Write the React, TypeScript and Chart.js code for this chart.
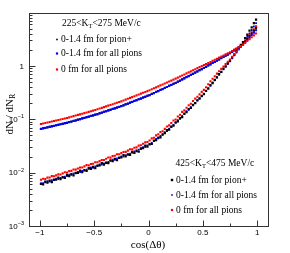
import React, { useEffect, useRef } from "react";
import { Chart, registerables } from "chart.js";

Chart.register(...registerables);

// Bin centres of cos(Δθ)
const cosBins = [
  -0.99, -0.97, -0.95, -0.93, -0.91, -0.89, -0.87, -0.85, -0.83, -0.81,
  -0.79, -0.77, -0.75, -0.73, -0.71, -0.69, -0.67, -0.65, -0.63, -0.61,
  -0.59, -0.57, -0.55, -0.53, -0.51, -0.49, -0.47, -0.45, -0.43, -0.41,
  -0.39, -0.37, -0.35, -0.33, -0.31, -0.29, -0.27, -0.25, -0.23, -0.21,
  -0.19, -0.17, -0.15, -0.13, -0.11, -0.09, -0.07, -0.05, -0.03, -0.01,
  0.01, 0.03, 0.05, 0.07, 0.09, 0.11, 0.13, 0.15, 0.17, 0.19,
  0.21, 0.23, 0.25, 0.27, 0.29, 0.31, 0.33, 0.35, 0.37, 0.39,
  0.41, 0.43, 0.45, 0.47, 0.49, 0.51, 0.53, 0.55, 0.57, 0.59,
  0.61, 0.63, 0.65, 0.67, 0.69, 0.71, 0.73, 0.75, 0.77, 0.79,
  0.81, 0.83, 0.85, 0.87, 0.89, 0.91, 0.93, 0.95, 0.97, 0.99,
];

// 225 < kT < 275 MeV/c
const lowKtPionPlus = [
  0.0655, 0.0680, 0.0686, 0.0710, 0.0718, 0.0741, 0.0749, 0.0774, 0.0783, 0.0808,
  0.0818, 0.0845, 0.0853, 0.0886, 0.0900, 0.0934, 0.0949, 0.0985, 0.1001, 0.1039,
  0.1055, 0.1096, 0.1113, 0.1155, 0.1174, 0.1218, 0.1244, 0.1297, 0.1324, 0.1380,
  0.1409, 0.1468, 0.1499, 0.1563, 0.1596, 0.1663, 0.1698, 0.1770, 0.1818, 0.1905,
  0.1956, 0.2050, 0.2106, 0.2207, 0.2267, 0.2376, 0.2440, 0.2557, 0.2627, 0.2753,
  0.2827, 0.2983, 0.3085, 0.3255, 0.3367, 0.3553, 0.3675, 0.3877, 0.4011, 0.4232,
  0.4377, 0.4619, 0.4777, 0.5069, 0.5274, 0.5597, 0.5822, 0.6179, 0.6427, 0.6821,
  0.7096, 0.7528, 0.7833, 0.8312, 0.8648, 0.9177, 0.958, 1.020, 1.065, 1.135,
  1.184, 1.261, 1.316, 1.402, 1.464, 1.559, 1.627, 1.733, 1.826, 1.962,
  2.067, 2.221, 2.340, 2.516, 2.85, 3.20, 3.60, 4.05, 4.55, 5.10,
];
const lowKtAllPions = [
  0.0661, 0.0676, 0.0690, 0.0706, 0.0721, 0.0737, 0.0753, 0.0770, 0.0787, 0.0804,
  0.0822, 0.0840, 0.0858, 0.0881, 0.0905, 0.0929, 0.0954, 0.0980, 0.1006, 0.1033,
  0.1061, 0.1090, 0.1119, 0.1149, 0.1180, 0.1212, 0.1250, 0.1290, 0.1331, 0.1373,
  0.1416, 0.1461, 0.1507, 0.1555, 0.1604, 0.1655, 0.1707, 0.1761, 0.1827, 0.1895,
  0.1966, 0.2040, 0.2117, 0.2196, 0.2278, 0.2364, 0.2452, 0.2544, 0.2640, 0.2739,
  0.2841, 0.2968, 0.3101, 0.3239, 0.3384, 0.3535, 0.3693, 0.3858, 0.4031, 0.4211,
  0.4399, 0.4596, 0.4801, 0.5044, 0.5300, 0.5569, 0.5851, 0.6148, 0.6459, 0.6787,
  0.7131, 0.7492, 0.7872, 0.8271, 0.8691, 0.9131, 0.963, 1.015, 1.070, 1.129,
  1.190, 1.255, 1.323, 1.395, 1.471, 1.551, 1.635, 1.724, 1.835, 1.952,
  2.077, 2.210, 2.352, 2.503, 2.776, 3.078, 3.414, 3.786, 4.199, 4.657,
];
const lowKtZeroFm = [
  0.0813, 0.0831, 0.0849, 0.0868, 0.0887, 0.0907, 0.0926, 0.0947, 0.0968, 0.0989,
  0.1011, 0.1033, 0.1055, 0.1084, 0.1113, 0.1143, 0.1173, 0.1205, 0.1237, 0.1271,
  0.1305, 0.1341, 0.1376, 0.1413, 0.1451, 0.1491, 0.1538, 0.1587, 0.1637, 0.1689,
  0.1742, 0.1797, 0.1854, 0.1913, 0.1973, 0.2036, 0.2100, 0.2166, 0.2247, 0.2331,
  0.2418, 0.2509, 0.2604, 0.2701, 0.2802, 0.2908, 0.3016, 0.3129, 0.3247, 0.3369,
  0.3494, 0.3645, 0.3799, 0.3961, 0.4128, 0.4306, 0.4487, 0.4680, 0.4878, 0.5087,
  0.5301, 0.5529, 0.5761, 0.6028, 0.6307, 0.6599, 0.6904, 0.7224, 0.7557, 0.7907,
  0.8272, 0.8653, 0.9053, 0.9470, 0.9908, 1.036, 1.079, 1.130, 1.183, 1.241,
  1.299, 1.362, 1.426, 1.494, 1.565, 1.639, 1.717, 1.802, 1.899, 2.011,
  2.119, 2.232, 2.352, 2.478, 2.693, 2.924, 3.175, 3.445, 3.737, 4.052,
];

// 425 < kT < 475 MeV/c
const highKtPionPlus = [
  0.00617, 0.00602, 0.00678, 0.00650, 0.00709, 0.00665, 0.00742, 0.00741, 0.00808, 0.00759,
  0.00813, 0.00794, 0.00893, 0.00859, 0.00941, 0.00886, 0.00992, 0.00993, 0.01087, 0.01025,
  0.01102, 0.01080, 0.01219, 0.01173, 0.01285, 0.01210, 0.01359, 0.01365, 0.01499, 0.01418,
  0.01529, 0.01504, 0.01704, 0.01645, 0.01808, 0.01708, 0.01919, 0.01928, 0.02121, 0.02012,
  0.02174, 0.02143, 0.02434, 0.02355, 0.02595, 0.02485, 0.02831, 0.02883, 0.03209, 0.03079,
  0.03367, 0.03463, 0.03981, 0.04059, 0.04526, 0.04565, 0.05197, 0.05493, 0.06222, 0.06381,
  0.07163, 0.07566, 0.08748, 0.09169, 0.1051, 0.1101, 0.1276, 0.1364, 0.1548, 0.1639,
  0.1842, 0.1999, 0.2269, 0.2438, 0.2740, 0.2943, 0.3402, 0.3759, 0.4344, 0.4776,
  0.5492, 0.6069, 0.6978, 0.7710, 0.8867, 0.9797, 1.127, 1.245, 1.451, 1.626,
  1.896, 2.124, 2.477, 2.774, 3.325, 3.829, 4.590, 5.287, 6.336, 7.371,
];
const highKtAllPions = [
  0.00629, 0.00634, 0.00658, 0.00690, 0.00682, 0.00722, 0.00728, 0.00771, 0.00761, 0.00799,
  0.00829, 0.00836, 0.00867, 0.00913, 0.00905, 0.00962, 0.00973, 0.01034, 0.01025, 0.01078,
  0.01124, 0.01136, 0.01184, 0.01246, 0.01235, 0.01313, 0.01332, 0.01420, 0.01413, 0.01492,
  0.01560, 0.01583, 0.01655, 0.01747, 0.01738, 0.01854, 0.01881, 0.02005, 0.02000, 0.02117,
  0.02218, 0.02256, 0.02364, 0.02501, 0.02494, 0.02697, 0.02775, 0.03000, 0.03026, 0.03240,
  0.03434, 0.03607, 0.03904, 0.04266, 0.04393, 0.04850, 0.05095, 0.05714, 0.05981, 0.06644,
  0.07306, 0.07800, 0.08578, 0.09637, 0.1020, 0.1158, 0.1251, 0.1419, 0.1503, 0.1689,
  0.1879, 0.2029, 0.2258, 0.2487, 0.2685, 0.3018, 0.3368, 0.3835, 0.4237, 0.4824,
  0.5384, 0.6069, 0.6805, 0.7632, 0.8603, 0.9649, 1.082, 1.213, 1.380, 1.568,
  1.783, 2.016, 2.280, 2.578, 2.996, 3.481, 4.045, 4.699, 5.458, 6.339,
];
const highKtZeroFm = [
  0.00734, 0.00769, 0.00760, 0.00805, 0.00811, 0.00859, 0.00853, 0.00890, 0.00929, 0.00922,
  0.00967, 0.01014, 0.01002, 0.01065, 0.01077, 0.01145, 0.01140, 0.01194, 0.01250, 0.01245,
  0.01311, 0.01379, 0.01367, 0.01454, 0.01470, 0.01562, 0.01562, 0.01641, 0.01724, 0.01723,
  0.01820, 0.01921, 0.01911, 0.02038, 0.02068, 0.02206, 0.02205, 0.02317, 0.02440, 0.02444,
  0.02588, 0.02738, 0.02729, 0.02919, 0.02968, 0.03209, 0.03253, 0.03466, 0.03692, 0.03741,
  0.04006, 0.04379, 0.04508, 0.04978, 0.05228, 0.05772, 0.05972, 0.06602, 0.07297, 0.07672,
  0.08524, 0.09468, 0.09905, 0.1125, 0.1214, 0.1378, 0.1466, 0.1640, 0.1833, 0.1950,
  0.2192, 0.2439, 0.2633, 0.2930, 0.3260, 0.3556, 0.3968, 0.4518, 0.5144, 0.5741,
  0.6406, 0.7172, 0.7945, 0.8800, 0.9745, 1.079, 1.194, 1.320, 1.480, 1.658,
  1.858, 2.081, 2.329, 2.578, 2.930, 3.326, 3.772, 4.272, 4.830, 5.528,
];

// Axes / labels
const xMajorTicks = [-1, -0.5, 0, 0.5, 1];
const xMinorTicks = [-0.75, -0.25, 0.25, 0.75];
const xTickLabels = ["\u22121", "\u22120.5", "0", "0.5", "1"];
const yMajorTicks = [0.001, 0.01, 0.1, 1, 10];
const yTickLabels: [number, string, string][] = [
  [0.001, "10", "\u22123"],
  [0.01, "10", "\u22122"],
  [0.1, "10", "\u22121"],
  [1, "1", ""],
];
const lowKtTitle = ["225<K", "T", "<275 MeV/c"];
const highKtTitle = ["425<K", "T", "<475 MeV/c"];
const legendLabels = ["0-1.4 fm for pion+", "0-1.4 fm for all pions", "0 fm for all pions"];
const colBlack = "#000000";
const colBlue = "#0000ff";
const colRed = "#ff0000";

const SERIF = '"Liberation Serif", "Times New Roman", serif';
const SANS = '"Liberation Sans", Arial, sans-serif';

function pts(ys: number[]) {
  return cosBins.map((x, i) => ({ x, y: ys[i] }));
}

const decorPlugin = {
  id: "rootDecor",
  afterDraw(chart: any) {
    const { ctx, chartArea: a, scales } = chart;
    const xs = scales.x;
    const ys = scales.y;
    ctx.save();
    // frame
    ctx.strokeStyle = "#333";
    ctx.lineWidth = 1;
    const L = Math.round(a.left) + 0.5;
    const T = Math.round(a.top) + 0.5;
    const R = Math.round(a.right) + 0.5;
    const B = Math.round(a.bottom) + 0.5;
    ctx.strokeRect(L, T, R - L, B - T);
    ctx.beginPath();
    xMajorTicks.forEach((v) => {
      const p = Math.round(xs.getPixelForValue(v)) + 0.5;
      ctx.moveTo(p, B);
      ctx.lineTo(p, B - 6);
    });
    xMinorTicks.forEach((v) => {
      const p = Math.round(xs.getPixelForValue(v)) + 0.5;
      ctx.moveTo(p, B);
      ctx.lineTo(p, B - 3);
    });
    yMajorTicks.forEach((v, k) => {
      const p = Math.round(ys.getPixelForValue(v)) + 0.5;
      ctx.moveTo(L, p);
      ctx.lineTo(L + 6, p);
      if (k < yMajorTicks.length - 1) {
        for (let m = 2; m <= 9; m++) {
          const q = Math.round(ys.getPixelForValue(v * m)) + 0.5;
          ctx.moveTo(L, q);
          ctx.lineTo(L + 3, q);
        }
      }
    });
    ctx.stroke();

    // x tick labels
    ctx.fillStyle = "#000";
    ctx.font = `8px ${SANS}`;
    ctx.textAlign = "center";
    ctx.textBaseline = "middle";
    xMajorTicks.forEach((v, i) => {
      ctx.fillText(xTickLabels[i], xs.getPixelForValue(v), 233);
    });
    // y tick labels
    yTickLabels.forEach(([v, base, sup]) => {
      const p = ys.getPixelForValue(v);
      ctx.font = `5.5px ${SANS}`;
      const ws = sup ? ctx.measureText(sup).width : 0;
      ctx.font = `8px ${SANS}`;
      const wb = ctx.measureText(base).width;
      const right = 24;
      ctx.textAlign = "left";
      ctx.textBaseline = "middle";
      ctx.fillText(base, right - ws - wb, p + 0.5);
      if (sup) {
        ctx.font = `5.5px ${SANS}`;
        ctx.fillText(sup, right - ws, p - 2.5);
      }
    });

    // axis titles
    ctx.font = `11px ${SERIF}`;
    ctx.textAlign = "center";
    ctx.textBaseline = "middle";
    ctx.fillText("cos(\u0394\u03b8)", (a.left + a.right) / 2 - 0.5, 245);

    ctx.save();
    ctx.translate(10, 114);
    ctx.rotate(-Math.PI / 2);
    ctx.font = `11px ${SERIF}`;
    const part1 = "dN / dN";
    ctx.font = `8px ${SERIF}`;
    const wr = ctx.measureText("R").width;
    ctx.font = `11px ${SERIF}`;
    const w1 = ctx.measureText(part1).width;
    const start = -(w1 + wr) / 2;
    ctx.textAlign = "left";
    ctx.fillText(part1, start, 0);
    ctx.font = `8px ${SERIF}`;
    ctx.fillText("R", start + w1, 3);
    ctx.restore();

    // legends
    const drawTitle = (parts: string[], x: number, y: number) => {
      ctx.textAlign = "left";
      ctx.textBaseline = "middle";
      ctx.font = `9.5px ${SERIF}`;
      ctx.fillText(parts[0], x, y);
      let cx = x + ctx.measureText(parts[0]).width;
      ctx.font = `6.5px ${SERIF}`;
      ctx.fillText(parts[1], cx, y + 3);
      cx += ctx.measureText(parts[1]).width;
      ctx.font = `9.5px ${SERIF}`;
      ctx.fillText(parts[2], cx, y);
    };
    const drawEntries = (x: number, ys0: number[], colors: string[], sizes: number[]) => {
      ctx.textAlign = "left";
      ctx.textBaseline = "middle";
      ctx.font = `9.5px ${SERIF}`;
      legendLabels.forEach((lab, i) => {
        ctx.fillStyle = colors[i];
        const s = sizes[i];
        ctx.fillRect(x - 4 - s / 2, ys0[i] - s / 2, s, s);
        ctx.fillStyle = "#000";
        ctx.fillText(lab, x, ys0[i]);
      });
    };
    ctx.fillStyle = "#000";
    drawTitle(lowKtTitle, 62, 23);
    drawEntries(61, [39.5, 53.5, 69.5], [colBlack, colBlue, colRed], [1.6, 2.2, 2.2]);
    ctx.fillStyle = "#000";
    drawTitle(highKtTitle, 175.5, 163.5);
    drawEntries(176, [180, 195, 210], [colBlack, colBlue, colRed], [2.4, 1.6, 2.2]);
    ctx.restore();
  },
};

export default function App() {
  const ref = useRef<HTMLCanvasElement | null>(null);
  useEffect(() => {
    document.body.style.margin = "0";
    const canvas = ref.current;
    if (!canvas) return;
    const mk = (label: string, ys: number[], color: string, r: number) => ({
      label,
      data: pts(ys),
      pointStyle: "rect",
      pointRadius: r,
      pointBorderWidth: 0,
      pointBackgroundColor: color,
      borderColor: color,
      backgroundColor: color,
      showLine: false,
    });
    const chart = new Chart(canvas, {
      type: "scatter",
      data: {
        datasets: [
          mk("225-275 0 fm all pions", lowKtZeroFm, colRed, 1.5),
          mk("225-275 0-1.4 fm all pions", lowKtAllPions, colBlue, 1.5),
          mk("225-275 0-1.4 fm pion+", lowKtPionPlus, colBlack, 1.5),
          mk("425-475 0 fm all pions", highKtZeroFm, colRed, 1.5),
          mk("425-475 0-1.4 fm pion+", highKtPionPlus, colBlack, 1.6),
          mk("425-475 0-1.4 fm all pions", highKtAllPions, colBlue, 1.3),
        ] as any,
      },
      options: {
        animation: false,
        responsive: false,
        events: [],
        layout: { padding: { left: 0, right: 22, top: 12.5, bottom: 0 } },
        plugins: { legend: { display: false }, tooltip: { enabled: false } },
        scales: {
          x: {
            type: "linear",
            min: -1.1,
            max: 1.1,
            grid: { display: false },
            border: { display: false },
            ticks: { display: false },
            afterFit: (s: any) => {
              s.height = 27;
            },
          },
          y: {
            type: "logarithmic",
            min: 0.001,
            max: 10,
            grid: { display: false },
            border: { display: false },
            ticks: { display: false },
            afterFit: (s: any) => {
              s.width = 29;
            },
          },
        },
      } as any,
      plugins: [decorPlugin],
    });
    return () => chart.destroy();
  }, []);
  return (
    <div style={{ width: 290, height: 253 }}>
      <canvas ref={ref} width={290} height={253} style={{ display: "block" }} />
    </div>
  );
}
